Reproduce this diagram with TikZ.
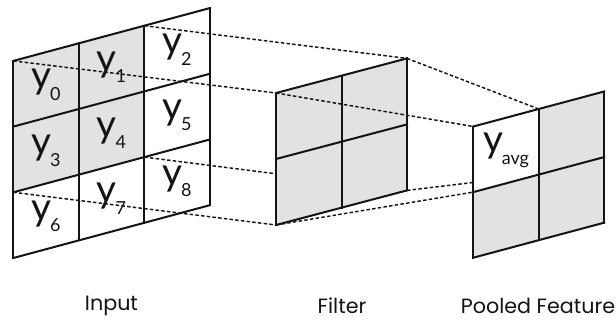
\documentclass[tikz,border=0pt]{standalone}
\usepackage{fontspec}
\setmainfont{Poppins}
\newfontfamily\symfont{Lato}
\definecolor{ink}{HTML}{141414}
\definecolor{cellgray}{HTML}{E2E2E2}
\tikzset{
  input frame/.style={cm={65.5,17.6,0,65.7,(13.3,64)}},
  filter frame/.style={cm={65.5,17.3,0,66,(276,97)}},
  pooled frame/.style={cm={65.4,17.5,0,65.6,(473.3,64.3)}},
  gridline/.style={draw=ink,line width=1.5pt,line cap=rect},
  link/.style={draw=ink,line width=1.1pt,dash pattern=on 2.6pt off 1.7pt},
  sym/.style={text=ink,inner sep=0pt,font=\symfont\fontsize{29}{29}\selectfont},
  caption/.style={text=ink,font=\fontsize{15.5}{18}\selectfont}
}
% y with a lowered index
\newcommand{\ysub}[1]{y\kern-0.03em\raisebox{-0.3em}{\fontsize{13.5}{13.5}\selectfont #1}}

\begin{document}
\begin{tikzpicture}[x=0.75pt,y=0.75pt]
  \path[use as bounding box,fill=white] (0,0) rectangle (616,322);

  % Corners used by the dashed projections.
  \begin{scope}[input frame]
    \coordinate (in-tl) at (0,3);
    \coordinate (in-wtr) at (2,3);
    \coordinate (in-wbr) at (2,1);
    \coordinate (in-wbl) at (0,1);
  \end{scope}
  \begin{scope}[filter frame]
    \coordinate (f-tl) at (0,2);
    \coordinate (f-tr) at (2,2);
    \coordinate (f-br) at (2,0);
    \coordinate (f-bl) at (0,0);
  \end{scope}
  \begin{scope}[pooled frame]
    \coordinate (p-tl) at (0,2);
    \coordinate (p-tm) at (1,2);
    \coordinate (p-c) at (1,1);
    \coordinate (p-ml) at (0,1);
  \end{scope}

  % Input: 3x3 values, 2x2 window shaded.
  \begin{scope}[input frame]
    \fill[cellgray] (0,1) rectangle (2,3);
    \foreach \i in {0,...,3} {
      \draw[gridline] (\i,0) -- (\i,3);
      \draw[gridline] (0,\i) -- (3,\i);
    }
    \foreach \k/\c/\r in {0/0/2,1/1/2,2/2/2,3/0/1,4/1/1,5/2/1,6/0/0,7/1/0,8/2/0}
      \node[sym] (y\k) at (\c+0.5,\r+0.5) {\ysub{\k}};
  \end{scope}

  \draw[link] (in-tl) -- (f-tl);
  \draw[link] (in-wtr) -- (f-tr);
  \draw[link] (in-wbr) -- (f-br);
  \draw[link] (in-wbl) -- (f-bl);

  % Filter: 2x2.
  \begin{scope}[filter frame]
    \fill[cellgray] (0,0) rectangle (2,2);
    \foreach \i in {0,...,2} {
      \draw[gridline] (\i,0) -- (\i,2);
      \draw[gridline] (0,\i) -- (2,\i);
    }
  \end{scope}

  \draw[link] (f-tl) -- (p-tl);
  \draw[link] (f-tr) -- (p-tm);
  \draw[link] (f-br) -- (p-c);
  \draw[link] (f-bl) -- (p-ml);

  % Pooled feature: the averaged cell stays white.
  \begin{scope}[pooled frame]
    \fill[cellgray] (0,0) -- (2,0) -- (2,2) -- (1,2) -- (1,1) -- (0,1) -- cycle;
    \fill[white] (0,1) rectangle (1,2);
    \foreach \i in {0,...,2} {
      \draw[gridline] (\i,0) -- (\i,2);
      \draw[gridline] (0,\i) -- (2,\i);
    }
    \node[sym] (yavg) at (0.5,1.5) {\ysub{avg}};
  \end{scope}

  \node[caption] (input) at (111.5,16) {Input};
  \node[caption] (filter) at (342,16) {Filter};
  \node[caption] (pooled) at (538,16) {Pooled Feature};
\end{tikzpicture}
\end{document}
